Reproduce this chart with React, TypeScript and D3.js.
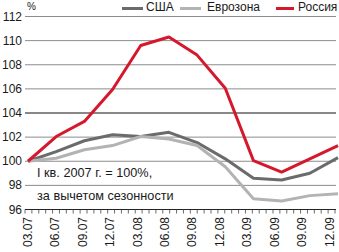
import React from "react";
import * as d3 from "d3";

const quarters = ["03.07","06.07","09.07","12.07","03.08","06.08","09.08","12.08","03.09","06.09","09.09","12.09"];
const usa = [100, 100.8, 101.7, 102.2, 102.05, 102.4, 101.55, 100.2, 98.6, 98.45, 99.0, 100.3];
const euro = [100, 100.25, 100.95, 101.3, 102.05, 101.85, 101.3, 99.55, 96.9, 96.7, 97.15, 97.3];
const russia = [100, 102.05, 103.3, 105.95, 109.6, 110.3, 108.8, 106.05, 100.05, 99.1, 100.2, 101.3];
const yTicks = [96, 98, 100, 102, 104, 106, 108, 110, 112];

const seriesNames = ["США", "Еврозона", "Россия"];
const seriesColors = ["#6b6b6b", "#b3b3b3", "#d5182b"];
const seriesData = [usa, euro, russia];

const W = 339;
const H = 252;
const FONT = "'Liberation Sans', Arial, sans-serif";

export default function App() {
  const x = d3.scaleLinear().domain([0, quarters.length - 1]).range([28, 338]);
  const xl = d3.scaleLinear().domain([0, quarters.length - 1]).range([27.8, 329.5]);
  const y = d3.scaleLinear().domain([96, 112]).range([209.5, 16.5]);
  const gx0 = 25;
  const gx1 = 336;
  const tickCount = 45;
  const tx = d3.scaleLinear().domain([0, tickCount]).range([gx0, 335]);
  const line = d3
    .line<number>()
    .x((_, i) => x(i))
    .y((d) => y(d));

  const legendPos = [
    { sx: 122, ex: 143, tx: 146 },
    { sx: 180, ex: 201, tx: 207 },
    { sx: 276, ex: 294, tx: 298 },
  ];

  return (
    <svg
      width={W}
      height={H}
      style={{ position: "absolute", left: 0, top: 0, background: "#fff" }}
      fontFamily={FONT}
    >
      {yTicks.map((t) =>
        t === 96 ? null : (
          <line
            key={t}
            x1={gx0}
            x2={gx1}
            y1={y(t)}
            y2={y(t)}
            stroke={t === 104 ? "#111" : "#8c8c8c"}
            strokeWidth={1}
          />
        )
      )}
      <line x1={gx0} x2={gx1} y1={y(96)} y2={y(96)} stroke="#222" strokeWidth={1} />
      {d3.range(0, tickCount + 1).map((i) => (
        <line key={i} x1={tx(i)} x2={tx(i)} y1={y(96)} y2={y(96) + 4} stroke="#444" strokeWidth={0.8} />
      ))}
      {yTicks.map((t) => (
        <text key={t} x={22} y={y(t)} textAnchor="end" dominantBaseline="central" fontSize={12} fill="#1a1a1a">
          {t}
        </text>
      ))}
      <text x={27} y={6} fontSize={10} dominantBaseline="central" fill="#1a1a1a">%</text>
      {quarters.map((q, i) => (
        <text
          key={q}
          transform={`translate(${xl(i)},217) rotate(-90)`}
          textAnchor="end"
          dominantBaseline="central"
          fontSize={12}
          fill="#1a1a1a"
        >
          {q}
        </text>
      ))}
      <text x={37} y={172.5} fontSize={12.7} dominantBaseline="central" fill="#1a1a1a">
        I кв. 2007 г. = 100%,
      </text>
      <text x={37} y={196} fontSize={12.7} dominantBaseline="central" fill="#1a1a1a">
        за вычетом сезонности
      </text>
      {seriesData.map((s, k) => (
        <path
          key={seriesNames[k]}
          d={line(s) || ""}
          fill="none"
          stroke={seriesColors[k]}
          strokeWidth={3}
          strokeLinejoin="round"
        />
      ))}
      {seriesNames.map((n, k) => (
        <g key={n}>
          <line
            x1={legendPos[k].sx}
            x2={legendPos[k].ex}
            y1={8.5}
            y2={8.5}
            stroke={seriesColors[k]}
            strokeWidth={3}
          />
          <text x={legendPos[k].tx} y={7} fontSize={12} dominantBaseline="central" fill="#1a1a1a">
            {n}
          </text>
        </g>
      ))}
    </svg>
  );
}
